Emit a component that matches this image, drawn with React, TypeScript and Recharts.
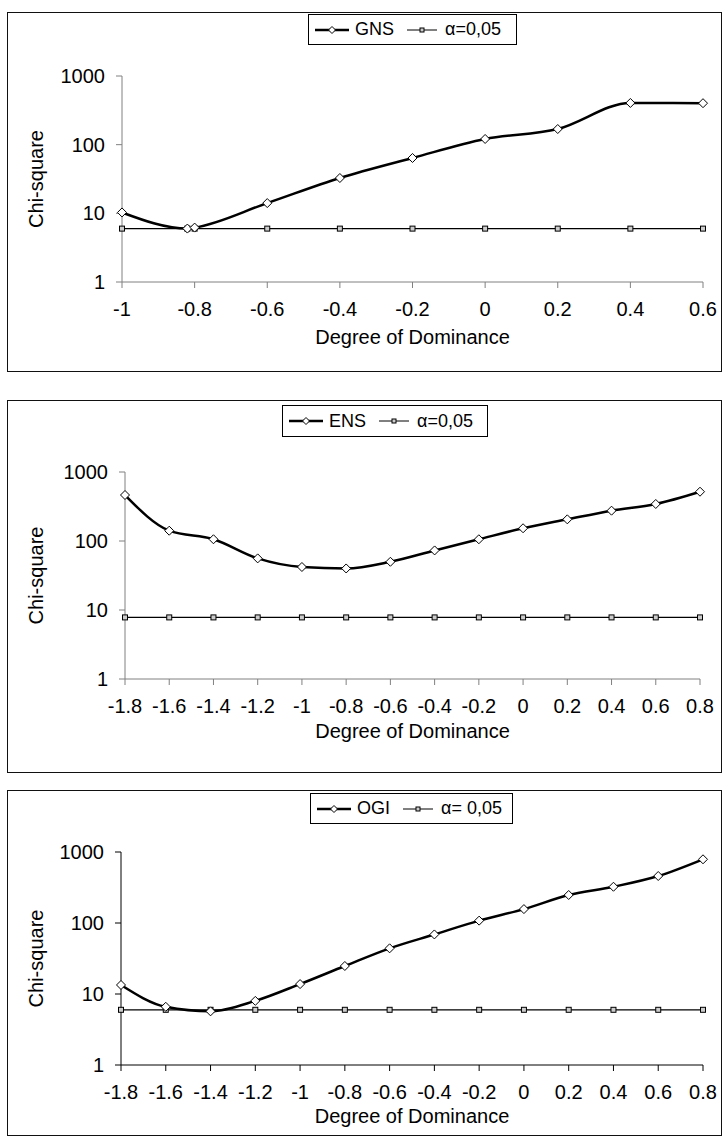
import React from 'react';
import { LineChart, Line, XAxis, YAxis, Label } from 'recharts';

// degree of dominance (x) and chi-square (y)
const gnsDominance = [-1, -0.82, -0.8, -0.6, -0.4, -0.2, 0, 0.2, 0.4, 0.6];
const gnsChiSquare = [10.3, 6.0, 6.2, 14.1, 32.7, 64, 121, 169, 405, 402];
const gnsCritical = [5.99, 5.99, 5.99, 5.99, 5.99, 5.99, 5.99, 5.99, 5.99, 5.99];

const ensDominance = [-1.8, -1.6, -1.4, -1.2, -1, -0.8, -0.6, -0.4, -0.2, 0, 0.2, 0.4, 0.6, 0.8];
const ensChiSquare = [464, 141, 106, 56, 42, 40, 50, 73, 106, 153, 206, 275, 344, 518];
const ensCritical = [7.81, 7.81, 7.81, 7.81, 7.81, 7.81, 7.81, 7.81, 7.81, 7.81, 7.81, 7.81, 7.81, 7.81];

const ogiDominance = [-1.8, -1.6, -1.4, -1.2, -1, -0.8, -0.6, -0.4, -0.2, 0, 0.2, 0.4, 0.6, 0.8];
const ogiChiSquare = [13.4, 6.6, 5.7, 8.0, 13.8, 24.8, 44, 69, 108, 157, 248, 324, 459, 789];
const ogiCritical = [5.99, 5.99, 5.99, 5.99, 5.99, 5.99, 5.99, 5.99, 5.99, 5.99, 5.99, 5.99, 5.99, 5.99];

const gnsTicks = [-1, -0.8, -0.6, -0.4, -0.2, 0, 0.2, 0.4, 0.6];
const wideTicks = [-1.8, -1.6, -1.4, -1.2, -1, -0.8, -0.6, -0.4, -0.2, 0, 0.2, 0.4, 0.6, 0.8];
const chiTicks = [1, 10, 100, 1000];

const FONT = '"Liberation Sans", Arial, sans-serif';

const Diamond = (props: any) => {
    const { cx, cy, index } = props;
    if (cx == null || cy == null) return <g key={`d-${index}`} />;
    const r = 4.5;
    return (
        <path
            key={`d-${index}`}
            d={`M${cx},${cy - r}L${cx + r},${cy}L${cx},${cy + r}L${cx - r},${cy}Z`}
            fill="#fff"
            stroke="#000"
            strokeWidth={1}
        />
    );
};

const Square = (props: any) => {
    const { cx, cy, index } = props;
    if (cx == null || cy == null) return <g key={`s-${index}`} />;
    return <rect key={`s-${index}`} x={cx - 2.5} y={cy - 2.5} width={5} height={5} fill="#ccc" stroke="#000" strokeWidth={1} />;
};

function ChartLegend({ left, top, width, height, name, alphaText }: any) {
    return (
        <div
            style={{
                position: 'absolute', left, top, width, height, boxSizing: 'border-box',
                border: '1px solid #000', background: '#fff', display: 'flex', alignItems: 'center',
                fontFamily: FONT, fontSize: 18, paddingLeft: 6, whiteSpace: 'nowrap', color: '#000',
            }}
        >
            <svg width={34} height={10}>
                <line x1={0} y1={5} x2={34} y2={5} stroke="#000" strokeWidth={2.5} />
                <path d="M17,1.5L20.5,5L17,8.5L13.5,5Z" fill="#fff" stroke="#000" strokeWidth={1} />
            </svg>
            <span style={{ marginLeft: 6 }}>{name}</span>
            <svg width={30} height={10} style={{ marginLeft: 13 }}>
                <line x1={0} y1={5} x2={30} y2={5} stroke="#000" strokeWidth={1} />
                <rect x={13} y={3} width={4} height={4} fill="#ccc" stroke="#000" strokeWidth={1} />
            </svg>
            <span style={{ marginLeft: 8 }}>{alphaText}</span>
        </div>
    );
}

function Panel({ name, alphaText, xs, ys, crit, ticks, box, plot, titleBaseline, legend, axisColor }: any) {
    const data = xs.map((x: number, i: number) => ({ x, chi: ys[i], crit: crit[i] }));
    const height = box.bottom - box.top;
    const tickStyle = { fill: '#000', fontSize: 20, fontFamily: FONT };
    const yMid = (plot.top + plot.bottom) / 2 - box.top;
    const xMid = (plot.left + plot.right) / 2;

    return (
        <>
            <div
                style={{
                    position: 'absolute', left: 7, top: box.top, width: 715, height,
                    boxSizing: 'border-box', border: '1px solid #111', background: '#fff',
                }}
            />
            <div style={{ position: 'absolute', left: 0, top: box.top }}>
                <LineChart
                    width={723}
                    height={height}
                    data={data}
                    margin={{ top: plot.top - box.top, right: 723 - plot.right, left: 0, bottom: 0 }}
                >
                    <XAxis
                        dataKey="x"
                        type="number"
                        domain={[ticks[0], ticks[ticks.length - 1]]}
                        ticks={ticks}
                        interval={0}
                        height={box.bottom - plot.bottom}
                        tickSize={6}
                        tickMargin={14}
                        stroke={axisColor}
                        tick={tickStyle}
                        tickFormatter={(v: number) => String(v)}
                    >
                        <Label
                            content={() => (
                                <text x={xMid} y={titleBaseline - box.top} textAnchor="middle" fontSize={20} fontFamily={FONT} fill="#000">
                                    Degree of Dominance
                                </text>
                            )}
                        />
                    </XAxis>
                    <YAxis
                        type="number"
                        scale="log"
                        domain={[1, 1000]}
                        ticks={chiTicks}
                        interval={0}
                        allowDataOverflow
                        width={plot.left}
                        tickSize={6}
                        tickMargin={11}
                        stroke={axisColor}
                        tick={tickStyle}
                    >
                        <Label
                            content={() => (
                                <text
                                    x={36}
                                    y={yMid}
                                    transform={`rotate(-90, 36, ${yMid})`}
                                    textAnchor="middle"
                                    dominantBaseline="central"
                                    fontSize={20}
                                    fontFamily={FONT}
                                    fill="#000"
                                >
                                    Chi-square
                                </text>
                            )}
                        />
                    </YAxis>
                    <Line
                        dataKey="crit"
                        type="linear"
                        stroke="#000"
                        strokeWidth={1.2}
                        dot={Square}
                        activeDot={false}
                        isAnimationActive={false}
                    />
                    <Line
                        dataKey="chi"
                        type="monotone"
                        stroke="#000"
                        strokeWidth={2.5}
                        dot={Diamond}
                        activeDot={false}
                        isAnimationActive={false}
                    />
                </LineChart>
            </div>
            <ChartLegend {...legend} name={name} alphaText={alphaText} />
        </>
    );
}

export default function App() {
    return (
        <div style={{ position: 'absolute', left: 0, top: 0, width: 723, height: 1142, background: '#fff' }}>
            <Panel
                name="GNS"
                alphaText="α=0,05"
                xs={gnsDominance}
                ys={gnsChiSquare}
                crit={gnsCritical}
                ticks={gnsTicks}
                box={{ top: 12, bottom: 372 }}
                plot={{ left: 122, right: 703, top: 76, bottom: 282 }}
                titleBaseline={344}
                legend={{ left: 308, top: 14, width: 209, height: 31 }}
                axisColor="#808080"
            />
            <Panel
                name="ENS"
                alphaText="α=0,05"
                xs={ensDominance}
                ys={ensChiSquare}
                crit={ensCritical}
                ticks={wideTicks}
                box={{ top: 400, bottom: 773 }}
                plot={{ left: 125, right: 700, top: 472, bottom: 679 }}
                titleBaseline={738}
                legend={{ left: 282, top: 405, width: 206, height: 32 }}
                axisColor="#808080"
            />
            <Panel
                name="OGI"
                alphaText="α= 0,05"
                xs={ogiDominance}
                ys={ogiChiSquare}
                crit={ogiCritical}
                ticks={wideTicks}
                box={{ top: 790, bottom: 1136 }}
                plot={{ left: 121, right: 703, top: 852, bottom: 1065 }}
                titleBaseline={1123}
                legend={{ left: 310, top: 793, width: 203, height: 31 }}
                axisColor="#000"
            />
        </div>
    );
}
